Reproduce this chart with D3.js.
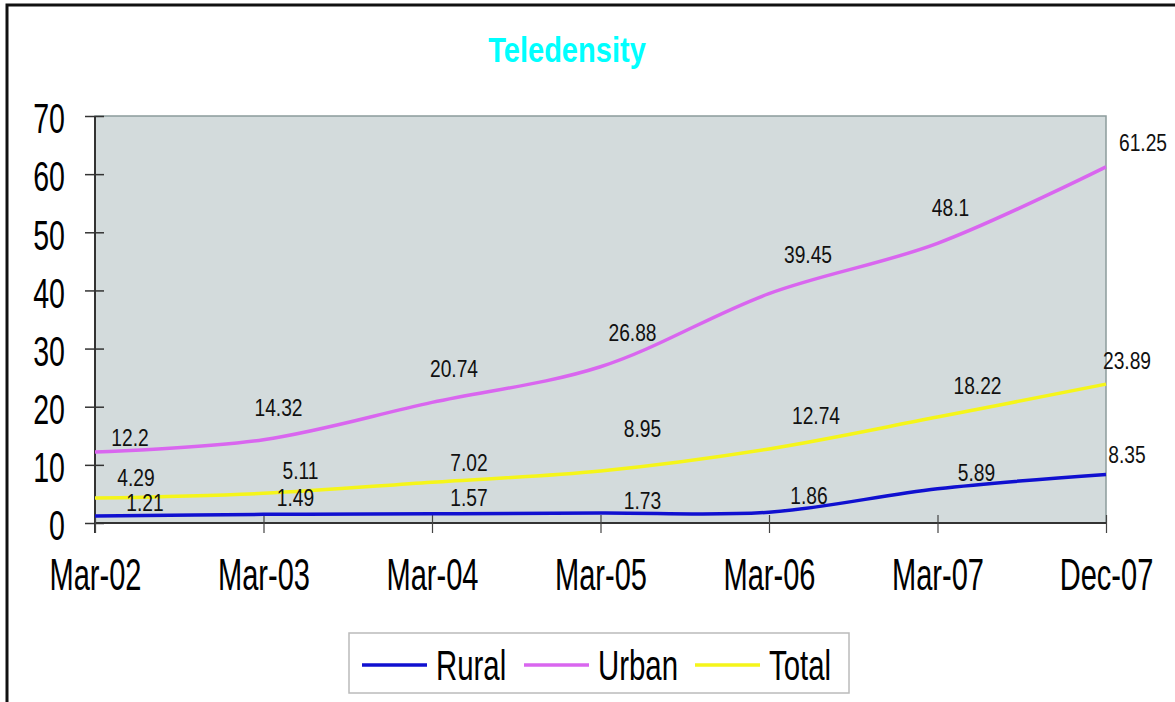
<!DOCTYPE html>
<html>
<head>
<meta charset="utf-8">
<script src="https://cdn.jsdelivr.net/npm/d3@7"></script>
<style>
  body { margin: 0; background: #fff; }
  svg text { font-family: "Liberation Sans", Arial, sans-serif; transform-box: fill-box; transform-origin: center; }
</style>
</head>
<body>
<svg id="chart" width="1175" height="702"></svg>
<script>
// data
const periods = ["Mar-02", "Mar-03", "Mar-04", "Mar-05", "Mar-06", "Mar-07", "Dec-07"];
const rural = [1.21, 1.49, 1.57, 1.73, 1.86, 5.89, 8.35];
const urban = [12.2, 14.32, 20.74, 26.88, 39.45, 48.1, 61.25];
const total = [4.29, 5.11, 7.02, 8.95, 12.74, 18.22, 23.89];
const yTicks = [0, 10, 20, 30, 40, 50, 60, 70];

const series = [
  { name: "Rural", values: rural, color: "#1010d0" },
  { name: "Urban", values: urban, color: "#d966ef" },
  { name: "Total", values: total, color: "#f5f51a" }
];

// label nudges (dx, dy) from the point, per series, as placed in the original
const labelNudge = {
  Rural: [[50, -14], [32, -17], [37, -17], [42, -13], [40, -17], [39, -16], [21, -20]],
  Urban: [[35, -15], [15, -32], [22, -34], [32, -34], [39, -39], [13, -36], [37, -24]],
  Total: [[41, -21], [37, -23], [37, -20], [42, -43], [47, -34], [40, -32], [21, -24]]
};

const svg = d3.select("#chart");
const plot = { left: 95, top: 116, right: 1106, bottom: 523 };

const x = d3.scalePoint().domain(periods).range([plot.left, plot.right]);
const y = d3.scaleLinear().domain([0, 70]).range([plot.bottom, plot.top]);

// outer frame (only top and left edges show)
svg.append("path")
  .attr("d", "M7,702V5H1175")
  .attr("fill", "none")
  .attr("stroke", "#111")
  .attr("stroke-width", 3);

// plot background
svg.append("rect")
  .attr("x", plot.left).attr("y", plot.top)
  .attr("width", plot.right - plot.left).attr("height", plot.bottom - plot.top)
  .attr("fill", "#d3dbdc")
  .attr("stroke", "#8c9c9c")
  .attr("stroke-width", 1.5);

// title
svg.append("text")
  .attr("x", 567).attr("y", 62)
  .attr("text-anchor", "middle")
  .attr("font-size", 35).attr("font-weight", "bold")
  .attr("fill", "#00ffff")
  .style("transform", "scaleX(0.83)")
  .text("Teledensity");

// axes
const yAxis = svg.append("g")
  .attr("transform", `translate(${plot.left},0)`)
  .call(d3.axisLeft(y).tickValues(yTicks).tickSize(10).tickPadding(20));
yAxis.selectAll(".tick line").attr("x2", -10).attr("x1", 9).attr("stroke", "#333").attr("stroke-width", 1.5);
yAxis.select(".domain").attr("stroke", "#333").attr("stroke-width", 2).attr("d", `M0,${plot.top}V${plot.bottom + 10}`);
yAxis.selectAll(".tick text")
  .attr("font-size", 42).attr("fill", "#000").attr("dy", "0.4em")
  .style("transform-origin", "right center")
  .style("transform", "scaleX(0.68)");

const xAxis = svg.append("g")
  .attr("transform", `translate(0,${plot.bottom})`)
  .call(d3.axisBottom(x).tickSize(10).tickPadding(26));
xAxis.selectAll(".tick line").attr("y1", -8).attr("stroke", "#444").attr("stroke-width", 1.2);
xAxis.select(".domain").attr("stroke", "#333").attr("stroke-width", 2).attr("d", `M${plot.left},0H${plot.right}`);
xAxis.selectAll(".tick text")
  .attr("font-size", 44).attr("fill", "#000")
  .style("transform", "scaleX(0.66)");

// lines
const line = d3.line()
  .x((d, i) => x(periods[i]))
  .y(d => y(d))
  .curve(d3.curveCatmullRom.alpha(0.5));

series.forEach(s => {
  svg.append("path")
    .datum(s.values)
    .attr("fill", "none")
    .attr("stroke", s.color)
    .attr("stroke-width", 3.5)
    .attr("d", line);
});

// data labels
series.forEach(s => {
  svg.append("g").selectAll("text")
    .data(s.values)
    .join("text")
    .attr("x", (d, i) => x(periods[i]) + labelNudge[s.name][i][0])
    .attr("y", (d, i) => y(d) + labelNudge[s.name][i][1])
    .attr("dy", "0.36em")
    .attr("text-anchor", "middle")
    .attr("font-size", 24)
    .attr("fill", "#111")
    .style("transform", "scaleX(0.8)")
    .text(d => d);
});

// legend
const legend = svg.append("g").attr("transform", "translate(349,633)");
legend.append("rect")
  .attr("width", 500).attr("height", 60)
  .attr("fill", "#fff").attr("stroke", "#bbb").attr("stroke-width", 1.5);
const legendX = [13, 175, 346];
series.forEach((s, i) => {
  const g = legend.append("g").attr("transform", `translate(${legendX[i]},32)`);
  g.append("line").attr("x1", 0).attr("x2", 65)
    .attr("stroke", s.color).attr("stroke-width", 3.5);
  g.append("text")
    .attr("x", 74).attr("dy", "0.36em")
    .attr("font-size", 42).attr("fill", "#000")
    .style("transform-origin", "left center")
    .style("transform", "scaleX(0.7)")
    .text(s.name);
});
</script>
</body>
</html>
